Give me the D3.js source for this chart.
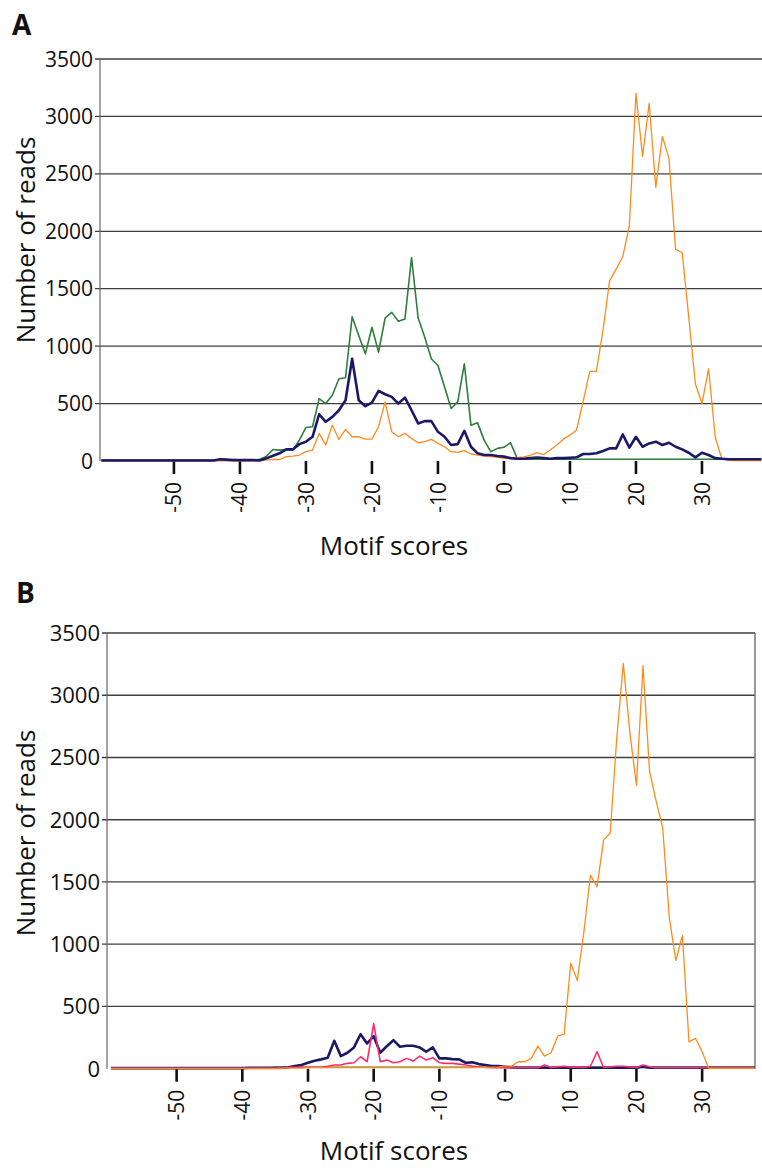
<!DOCTYPE html>
<html>
<head>
<meta charset="utf-8">
<script src="https://cdn.jsdelivr.net/npm/d3@7"></script>
<style>
  body { margin: 0; background: #fff; }
  svg { display: block; font-family: "Open Sans", "Noto Sans", sans-serif; }
  .grid line { stroke: #3f3f3f; stroke-width: 1.3; }
</style>
</head>
<body>
<div id="chart"></div>
<script>
// score bins (x categories)
var scoresA = d3.range(-61, 40);
var scoresB = d3.range(-60, 39);
var yTicks = [0, 500, 1000, 1500, 2000, 2500, 3000, 3500];
var xTicks = [-50, -40, -30, -20, -10, 0, 10, 20, 30];

// panel A, from score -61
var orangeA = [2,2,2,2,2,2,2,2,2,2,
  2,2,2,2,2,2,2,2,2,2,
  2,2,2,2,3,8,15,12,38,43,
  52,81,95,240,139,312,188,275,211,211,
  191,191,298,515,254,211,240,197,159,168,
  188,153,124,81,75,90,61,52,43,38,
  32,23,20,30,35,50,72,55,95,140,
  190,225,270,520,780,780,1135,1568,1670,1780,
  2050,3200,2652,3114,2383,2825,2637,1843,1815,1250,
  673,500,803,211,20,5,3,3,3,3,
  3];
var navyA = [5,5,5,5,5,5,5,5,5,5,
  5,5,5,5,5,5,5,5,15,12,
  8,8,8,8,5,23,45,67,101,101,
  147,168,211,407,341,384,442,529,890,529,
  477,509,610,581,558,500,552,442,327,347,
  347,254,211,139,147,263,124,67,52,52,
  43,38,25,20,20,25,30,25,20,25,
  25,28,32,61,61,67,87,110,110,231,
  116,211,124,153,168,139,159,124,101,72,
  32,72,52,25,20,15,15,15,15,15,
  15];
var greenA = [8,8,8,8,8,8,8,8,8,8,
  8,8,8,8,8,8,8,8,8,8,
  8,8,8,8,15,40,100,95,100,95,
  182,292,298,543,500,572,716,725,1256,1092,
  933,1164,948,1245,1294,1216,1236,1771,1245,1078,
  890,832,644,457,515,847,312,332,182,81,
  110,119,159,23,15,15,15,15,15,15,
  15,15,15,15,15,15,15,15,15,15,
  15,15,15,15,15,15,15,15,15,15,
  15,15,15,15,15,15,15,15,15,15,
  15];

// panel B, from score -60
var orangeB = [2,2,2,2,2,2,2,2,2,2,
  2,2,2,2,2,2,2,2,2,2,
  2,2,2,2,2,2,5,5,5,5,
  8,8,8,8,8,8,8,8,8,8,
  8,8,8,8,8,8,8,8,8,8,
  8,8,8,8,8,8,10,10,12,15,
  21,21,56,56,83,181,101,128,261,277,
  848,709,1100,1555,1461,1838,1891,2650,3256,2700,
  2277,3237,2389,2149,1936,1216,869,1069,216,243,
  136,3,2,2,2,2,2,2,2];
var navyB = [5,5,5,5,5,5,5,5,5,5,
  5,5,5,5,5,5,5,5,5,5,
  5,8,8,8,8,8,8,11,22,30,
  48,64,75,88,224,101,128,171,277,203,
  261,128,181,229,176,184,184,171,136,171,
  83,83,77,75,48,51,37,30,22,22,
  16,10,8,8,8,8,8,8,8,8,
  8,8,8,8,8,8,8,8,8,8,
  8,15,8,8,8,8,8,8,8,8,
  8,8,8,8,8,8,8,8,8];
var pinkB = [3,3,3,3,3,3,3,3,3,3,
  3,3,3,3,3,3,3,3,3,3,
  3,3,3,3,3,3,3,12,12,12,
  12,12,12,20,30,30,43,48,96,56,
  363,56,69,48,56,83,61,101,69,88,
  48,43,43,37,30,22,16,10,8,8,
  8,8,8,8,8,8,30,10,15,20,
  12,15,10,20,136,10,15,20,20,15,
  10,30,15,8,8,8,8,8,8,8,
  8,8,8,8,8,8,8,8,8];
var greenB = [5,5,5,5,5,5,5,5,5,5,
  5,5,5,5,5,5,5,5,5,5,
  5,5,5,5,5,12,12,12,12,12,
  12,12,12,12,12,12,12,12,12,12,
  12,12,12,12,12,12,12,12,12,12,
  12,12,12,12,12,12,12,12,12,12,
  12,12,12,12,12,12,12,12,12,12,
  12,12,12,12,12,12,12,12,12,12,
  12,12,12,12,12,12,12,12,12,12,
  12,12,12,12,12,12,12,12,12];

var svg = d3.select("#chart").append("svg")
    .attr("width", 762)
    .attr("height", 1168);

function drawPanel(p) {
  var x = d3.scaleLinear().domain(p.xDomain).range([p.left, p.right]);
  var y = d3.scaleLinear().domain([0, 3500]).range([p.bottom, p.top]);
  var g = svg.append("g");

  // horizontal grid
  g.append("g").attr("class", "grid")
    .selectAll("line").data(yTicks.slice(1)).enter().append("line")
    .attr("x1", p.left - 5).attr("x2", p.right)
    .attr("y1", function(d) { return y(d); })
    .attr("y2", function(d) { return y(d); });

  // frame
  g.append("line").attr("x1", p.left).attr("x2", p.left)
    .attr("y1", p.top).attr("y2", p.bottom)
    .attr("stroke", "#666").attr("stroke-width", 1.2);
  if (p.rightBorder) {
    g.append("line").attr("x1", p.right).attr("x2", p.right)
      .attr("y1", p.top).attr("y2", p.bottom)
      .attr("stroke", "#777").attr("stroke-width", 1.5);
  }

  // y labels
  g.selectAll(".ylab").data(yTicks).enter().append("text")
    .attr("x", p.left - 7)
    .attr("y", function(d) { return y(d); })
    .attr("dy", "0.36em")
    .attr("text-anchor", "end")
    .style("font-size", p.tickSize)
    .attr("fill", "#111")
    .text(function(d) { return d; });

  // x ticks + rotated labels
  g.selectAll(".xtick").data(xTicks).enter().append("line")
    .attr("x1", function(d) { return x(d); })
    .attr("x2", function(d) { return x(d); })
    .attr("y1", p.bottom).attr("y2", p.bottom + 13)
    .attr("stroke", "#111").attr("stroke-width", 2.6);

  g.selectAll(".xlab").data(xTicks).enter().append("text")
    .attr("transform", function(d) {
      return "translate(" + x(d) + "," + (p.bottom + 21) + ") rotate(-90)";
    })
    .attr("dy", "0.36em")
    .attr("text-anchor", "end")
    .style("font-size", "21px")
    .attr("fill", "#111")
    .text(function(d) { return d; });

  var line = d3.line()
    .x(function(d) { return x(d.s); })
    .y(function(d) { return y(d.v); });

  p.series.forEach(function(s) {
    var pts = s.values.map(function(v, i) { return {s: p.scores[i], v: v}; });
    g.append("path")
      .datum(pts)
      .attr("fill", "none")
      .attr("stroke", s.color)
      .attr("stroke-width", s.width)
      .attr("stroke-linejoin", "round")
      .attr("d", line);
  });

  // axis titles
  g.append("text")
    .attr("transform", "translate(35," + p.yTitleY + ") rotate(-90)")
    .attr("text-anchor", "middle")
    .style("font-size", "26px")
    .attr("fill", "#111")
    .text("Number of reads");

  g.append("text")
    .attr("x", 394).attr("y", p.xTitleY)
    .attr("text-anchor", "middle")
    .style("font-size", "26px")
    .attr("fill", "#111")
    .text("Motif scores");

  g.append("text")
    .attr("x", p.letterX).attr("y", p.letterY)
    .style("font-size", "28px")
    .style("font-weight", "bold")
    .attr("fill", "#111")
    .text(p.letter);
}

drawPanel({
  letter: "A", letterX: 12, letterY: 35,
  left: 100, right: 766, top: 59, bottom: 461,
  xDomain: [-61.2, 39.7],
  scores: scoresA, tickSize: "21px",
  yTitleY: 240, xTitleY: 555, rightBorder: false,
  series: [
    {values: greenA, color: "#2e7d3c", width: 1.6},
    {values: orangeA, color: "#ff8a1c", width: 1.3},
    {values: navyA, color: "#1c1868", width: 2.6}
  ]
});

drawPanel({
  letter: "B", letterX: 16, letterY: 603,
  left: 107, right: 755, top: 633, bottom: 1068.7,
  xDomain: [-60.6, 38.05],
  scores: scoresB, tickSize: "22px",
  yTitleY: 833, xTitleY: 1160, rightBorder: true,
  series: [
    {values: greenB, color: "#3d7a2a", width: 1.6},
    {values: navyB, color: "#1c1868", width: 2.6},
    {values: pinkB, color: "#ff2b6b", width: 1.6},
    {values: orangeB, color: "#ff8a1c", width: 1.3}
  ]
});
</script>
</body>
</html>
